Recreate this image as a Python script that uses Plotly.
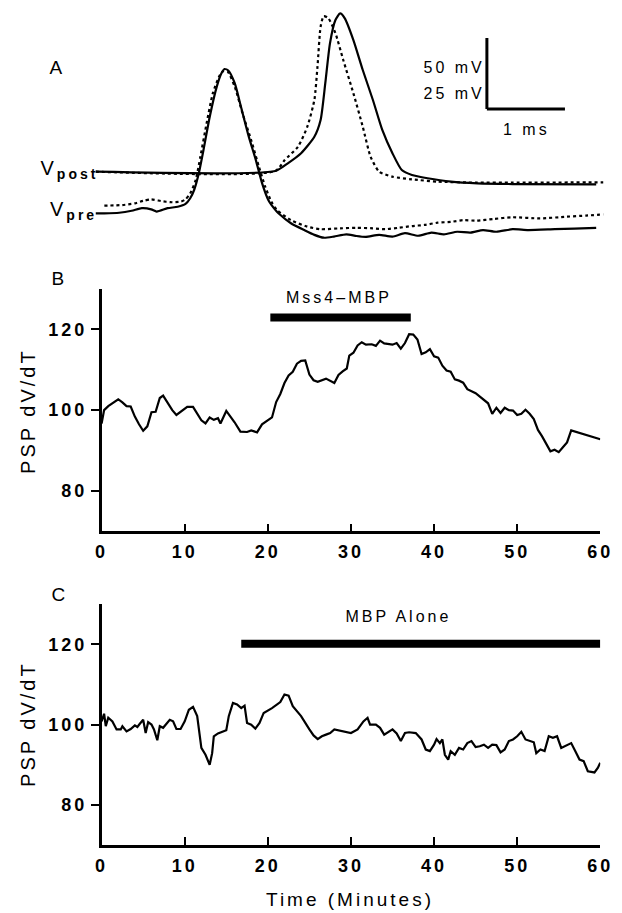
import plotly.graph_objects as go

# ---------------- Panel A : action potentials (time in ms, voltage in mV relative to rest)
post_solid_t = [0.0, 2.30, 2.46, 2.63, 2.80, 2.88, 2.94, 3.00, 3.07, 3.13, 3.19, 3.30, 3.42, 3.55, 3.67,
                3.80, 3.92, 4.05, 4.25, 4.55, 4.89, 5.34, 6.41]
post_solid_v = [0.0, 0.5, 5.9, 13.0, 24.6, 36.4, 62.3, 90.4, 106.8, 111.5, 108.0, 92.7, 71.6, 50.5, 29.4,
                13.0, 1.2, -2.3, -4.6, -7.0, -8.2, -8.7, -8.9]
post_dot_t = [0.0, 2.30, 2.42, 2.59, 2.71, 2.80, 2.84, 2.88, 2.92, 2.98, 3.07, 3.17, 3.30, 3.42, 3.52,
              3.63, 3.80, 4.05, 4.38, 4.88, 5.34, 6.50]
post_dot_v = [0.0, 0.5, 8.2, 17.6, 31.7, 50.5, 73.9, 102.1, 109.6, 108.0, 97.5, 78.7, 55.2, 31.7, 10.6,
              0.0, -3.5, -5.4, -7.0, -7.7, -7.7, -7.5]
pre_solid_t = [0.0, 0.11, 0.30, 0.46, 0.59, 0.71, 0.78, 0.92, 1.05, 1.15, 1.21, 1.26, 1.32, 1.38, 1.46,
               1.55, 1.61, 1.65, 1.70, 1.78, 1.86, 1.96, 2.05, 2.13, 2.21, 2.30, 2.34, 2.50, 2.67, 2.80,
               2.92, 3.05, 3.21, 3.34, 3.46, 3.63, 3.80, 3.96, 4.13, 4.30, 4.46, 4.63, 4.80, 4.96, 5.13,
               5.34, 5.54, 5.88, 6.13, 6.41]
pre_solid_v = [0.0, 0.0, 0.2, 0.9, 1.8, 1.4, 0.6, 1.8, 2.3, 3.3, 5.3, 8.2, 14.1, 22.3, 34.0,
               44.6, 49.3, 50.8, 50.2, 45.8, 37.5, 27.0, 18.8, 10.6, 4.7, 1.2, 0.0, -3.5, -5.9, -7.6,
               -8.6, -8.2, -7.4, -8.0, -8.3, -7.6, -8.2, -7.0, -7.9, -6.8, -7.4, -6.5, -6.8, -5.9, -6.5,
               -5.6, -5.9, -5.6, -5.4, -5.1]
pre_dot_t = [0.11, 0.34, 0.50, 0.61, 0.71, 0.84, 0.96, 1.09, 1.15, 1.21, 1.28, 1.34, 1.42, 1.50, 1.59,
             1.64, 1.69, 1.78, 1.88, 1.99, 2.09, 2.17, 2.25, 2.32, 2.50, 2.71, 2.88, 3.13, 3.34, 3.55,
             3.71, 3.88, 4.05, 4.21, 4.38, 4.55, 4.71, 4.88, 5.09, 5.34, 5.69, 6.03, 6.28, 6.50]
pre_dot_v = [2.7, 2.9, 3.5, 4.4, 4.9, 4.3, 3.9, 4.1, 4.9, 7.0, 11.7, 19.9, 31.7, 42.3, 48.7,
             50.2, 49.9, 44.6, 35.2, 25.8, 16.4, 9.4, 4.1, 1.2, -2.4, -4.7, -5.6, -5.3, -5.1, -5.3,
             -5.6, -5.1, -4.5, -4.1, -3.3, -3.0, -2.4, -2.6, -2.0, -1.4, -1.8, -1.2, -0.8, -0.4]

# ---------------- Panel B : Mss4-MBP
b_t = [0, 0.3, 0.8, 1.5, 2, 2.5, 3, 3.5, 4, 4.5,
       5, 5.5, 6, 6.5, 7, 7.4, 8, 8.5, 9, 9.7,
       10.3, 11, 11.5, 12, 12.5, 13, 13.5, 14, 14.3, 15,
       15.5, 16, 16.7, 17.5, 18, 18.7, 19.3, 20, 20.5, 21,
       21.5, 22, 22.5, 23, 23.5, 24, 24.5, 25, 25.5, 26,
       27, 28, 28.5, 29, 29.5, 29.8, 30.3, 30.8, 31.3, 31.8,
       32.5, 33, 33.5, 34, 35, 35.5, 36, 36.5, 37, 37.5,
       38, 38.5, 39, 39.5, 40, 40.5, 41, 41.5, 42, 42.5,
       43, 43.5, 44, 45, 46, 46.5, 47, 47.5, 48, 48.5,
       49, 49.5, 50, 50.5, 51, 51.5, 52, 52.5, 53, 53.5,
       54, 54.5, 55, 55.5, 56, 56.5, 60]
b_v = [96.7, 100.0, 101.0, 102.0, 102.7, 101.9, 101.0, 100.9, 98.4, 96.5,
       94.9, 96.0, 99.5, 99.6, 103.0, 103.6, 101.6, 100.0, 98.8, 99.9,
       100.8, 100.8, 99.0, 97.5, 96.7, 98.2, 97.6, 98.0, 96.7, 99.8,
       98.4, 97.0, 94.7, 94.6, 95.0, 94.5, 96.5, 97.6, 98.2, 102.0,
       104.0, 106.7, 108.6, 109.5, 111.5, 112.2, 112.3, 108.8, 107.4, 107.0,
       107.8, 106.7, 108.7, 109.6, 110.3, 113.5, 114.2, 116.0, 116.8, 116.2,
       116.3, 115.9, 117.2, 116.5, 116.2, 116.6, 115.2, 116.6, 118.8, 118.7,
       117.5, 113.9, 114.3, 115.1, 113.3, 113.0, 111.0, 109.8, 109.5, 107.6,
       107.3, 106.8, 105.2, 104.2, 102.6, 101.7, 99.1, 100.6, 99.3, 100.6,
       100.0, 99.9, 98.8, 99.1, 100.1, 99.1, 97.8, 95.1, 93.5, 91.5,
       89.8, 90.2, 89.6, 90.8, 92.0, 95.0, 92.8]
b_treat = [20.3, 37.2]
b_label = "Mss4\u2013MBP"

# ---------------- Panel C : MBP alone
c_t = [0, 0.3, 0.5, 0.8, 1.3, 1.8, 2.3, 2.5, 3, 3.5,
       4, 4.3, 4.6, 5, 5.3, 5.6, 6, 6.3, 6.7, 7,
       7.4, 7.8, 8.2, 8.6, 9, 9.5, 10, 10.5, 11, 11.5,
       12, 12.5, 13, 13.3, 13.5, 14, 15, 15.3, 15.8, 16.3,
       16.8, 17.2, 17.5, 18, 18.5, 19, 19.5, 20.5, 21.5, 22,
       22.5, 23, 24, 25, 25.5, 26, 26.5, 27, 27.5, 28,
       29, 30, 30.8, 31.5, 32, 32.3, 33, 33.5, 34, 35,
       35.5, 36, 36.5, 37, 37.8, 38.5, 39, 39.5, 40, 40.3,
       40.7, 41, 41.3, 41.7, 42, 42.5, 43, 43.5, 44, 44.5,
       45, 45.5, 46, 46.5, 47, 47.5, 48, 48.5, 49, 49.5,
       50, 50.5, 51, 51.5, 52, 52.3, 52.8, 53.3, 53.8, 54.3,
       54.8, 55.3, 56, 56.5, 57, 57.5, 58, 58.5, 59.3, 59.7,
       60]
c_v = [100.8, 102.7, 99.6, 101.7, 100.8, 98.8, 98.8, 99.6, 98.3, 98.9,
       99.8, 99.4, 100.2, 101.2, 97.9, 100.6, 100.0, 98.8, 96.1, 99.6,
       99.2, 100.2, 101.2, 100.8, 98.9, 98.9, 100.8, 103.7, 104.4, 102.1,
       94.2, 92.5, 90.0, 92.9, 97.1, 97.8, 98.6, 102.1, 105.4, 105.0,
       104.1, 104.7, 100.4, 100.0, 99.0, 100.4, 102.9, 104.1, 105.6, 107.5,
       107.2, 104.6, 102.1, 98.8, 97.3, 96.4, 97.1, 97.5, 97.9, 98.8,
       98.3, 97.9, 98.8, 100.8, 101.7, 100.0, 100.0, 99.2, 97.5, 98.8,
       97.8, 95.9, 97.9, 98.1, 97.9, 96.3, 93.8, 93.4, 95.0, 96.4,
       95.4, 96.3, 92.5, 91.3, 93.4, 92.5, 94.2, 93.8, 95.4, 95.9,
       94.4, 94.6, 95.0, 94.2, 95.0, 94.9, 93.1, 93.8, 95.9, 96.3,
       97.1, 98.2, 96.3, 95.9, 95.6, 92.9, 93.8, 93.4, 97.1, 96.7,
       97.1, 94.2, 94.8, 95.4, 93.4, 91.3, 90.9, 88.4, 88.1, 89.2,
       90.5]
c_treat = [16.8, 60.0]
c_label = "MBP Alone"

x_ticks = [0, 10, 20, 30, 40, 50, 60]
y_ticks = [80, 100, 120]
y_title = "PSP dV/dT"
x_title = "Time (Minutes)"

# ---------------- layout constants (pixels of the 622 x 913 page)
W, H = 622, 913
FONT = "Liberation Sans, Arial, Helvetica, sans-serif"
PX_PER_MS = 80.0
PX_PER_MV_POST = 1.42          # 50 mV = 71 px
PRE_GAIN = 2.0                 # 25 mV bar for the presynaptic trace
T0_PX = 93.0
POST_BASE_PX = 171.7
PRE_BASE_PX = 213.3
PRE_OFFSET = (POST_BASE_PX - PRE_BASE_PX) / PX_PER_MV_POST
A_BOTTOM_PX = 262.0


def px_to_paper_y(py):
    return 1 - py / H


def px_to_paper_x(px):
    return px / W


pre_solid_plot = [PRE_OFFSET + PRE_GAIN * v for v in pre_solid_v]
pre_dot_plot = [PRE_OFFSET + PRE_GAIN * v for v in pre_dot_v]

fig = go.Figure()
blk = "black"

# panel A traces
spline = dict(shape="spline", smoothing=0.6)
fig.add_trace(go.Scatter(x=post_solid_t, y=post_solid_v, xaxis="x3", yaxis="y3", mode="lines",
                         line=dict(color=blk, width=2.2, **spline)))
fig.add_trace(go.Scatter(x=post_dot_t, y=post_dot_v, xaxis="x3", yaxis="y3", mode="lines",
                         line=dict(color=blk, width=2.2, dash="3px,3px", **spline)))
fig.add_trace(go.Scatter(x=pre_solid_t, y=pre_solid_plot, xaxis="x3", yaxis="y3", mode="lines",
                         line=dict(color=blk, width=2.2, **spline)))
fig.add_trace(go.Scatter(x=pre_dot_t, y=pre_dot_plot, xaxis="x3", yaxis="y3", mode="lines",
                         line=dict(color=blk, width=2.2, dash="3px,3px", **spline)))

# panel B and C traces
fig.add_trace(go.Scatter(x=b_t, y=b_v, xaxis="x", yaxis="y", mode="lines",
                         line=dict(color=blk, width=2.2)))
fig.add_trace(go.Scatter(x=c_t, y=c_v, xaxis="x2", yaxis="y2", mode="lines",
                         line=dict(color=blk, width=2.2)))

xdom = [px_to_paper_x(99), px_to_paper_x(610)]
b_dom = [px_to_paper_y(531.4), px_to_paper_y(288.9)]
c_dom = [px_to_paper_y(845.2), px_to_paper_y(604.0)]
a_dom = [px_to_paper_y(A_BOTTOM_PX), 1.0]

tickfont = dict(family=FONT, size=18, color=blk, weight="bold")
xax = dict(range=[0, 60], domain=xdom, showline=True, linecolor=blk, linewidth=2.5,
           ticks="inside", ticklen=8, tickwidth=2, tickcolor=blk, tickvals=x_ticks,
           tickfont=tickfont, showgrid=False, zeroline=False, ticklabelstandoff=2)
yax = dict(range=[70, 130], showline=True, linecolor=blk, linewidth=2.5,
           ticks="outside", ticklen=8, tickwidth=2, tickcolor=blk, tickvals=y_ticks,
           tickfont=tickfont, showgrid=False, zeroline=False)

a_range_y = [(POST_BASE_PX - A_BOTTOM_PX) / PX_PER_MV_POST, POST_BASE_PX / PX_PER_MV_POST]
a_range_x = [-T0_PX / PX_PER_MS, (W - T0_PX) / PX_PER_MS]

fig.update_layout(
    width=W, height=H, autosize=False,
    margin=dict(l=0, r=0, t=0, b=0),
    paper_bgcolor="white", plot_bgcolor="rgba(0,0,0,0)",
    showlegend=False,
    font=dict(family=FONT, color=blk),
    xaxis=dict(**xax, anchor="y"),
    yaxis=dict(**yax, domain=b_dom, anchor="x"),
    xaxis2=dict(**xax, anchor="y2"),
    yaxis2=dict(**yax, domain=c_dom, anchor="x2"),
    xaxis3=dict(range=a_range_x, domain=[0, 1], visible=False, anchor="y3"),
    yaxis3=dict(range=a_range_y, domain=a_dom, visible=False, anchor="x3"),
)

# scale bars in panel A (50 mV post / 25 mV pre, 1 ms)
SB_T = 5.01
SB_V0 = (POST_BASE_PX - 109.0) / PX_PER_MV_POST
shapes = [
    dict(type="line", xref="x3", yref="y3", x0=SB_T, x1=SB_T, y0=SB_V0, y1=SB_V0 + 50,
         line=dict(color=blk, width=3)),
    dict(type="line", xref="x3", yref="y3", x0=SB_T, x1=SB_T + 1.0, y0=SB_V0, y1=SB_V0,
         line=dict(color=blk, width=3)),
    dict(type="line", xref="x", yref="y", x0=b_treat[0], x1=b_treat[1], y0=122.9, y1=122.9,
         line=dict(color=blk, width=8)),
    dict(type="line", xref="x2", yref="y2", x0=c_treat[0], x1=c_treat[1], y0=120.1, y1=120.1,
         line=dict(color=blk, width=8)),
]
fig.update_layout(shapes=shapes)


def ann(text, px, py, size, xanchor="center", yanchor="middle", angle=0, weight="normal"):
    return dict(text=text, x=px_to_paper_x(px), y=px_to_paper_y(py), xref="paper", yref="paper",
                showarrow=False, xanchor=xanchor, yanchor=yanchor, textangle=angle,
                font=dict(family=FONT, size=size, color=blk, weight=weight))


annotations = [
    ann("A", 54, 67, 19),
    ann("B", 56, 278, 19),
    ann("C", 56, 594, 19),
    ann("50\u00a0mV", 487, 68, 16, xanchor="right"),
    ann("25\u00a0mV", 487, 93, 16, xanchor="right"),
    ann("1\u00a0ms", 534, 130, 16),
    ann("V<sub><b>post</b></sub>", 90, 170, 20, xanchor="right"),
    ann("V<sub><b>pre</b></sub>", 90, 210, 20, xanchor="right"),
    ann(b_label, 342, 297, 16),
    ann(c_label, 403, 616, 16),
    ann(y_title, 24, 411, 20, angle=-90),
    ann(y_title, 24, 724, 20, angle=-90),
    ann(x_title, 354, 899, 19),
]
fig.update_layout(annotations=annotations)

post_script = """
var gd = document.getElementById('{plot_id}');
gd.querySelectorAll('text').forEach(function(t){ t.style.letterSpacing = '3px'; });
"""

fig.write_html("out.html", include_plotlyjs=True, config={"displayModeBar": False},
               post_script=post_script)
